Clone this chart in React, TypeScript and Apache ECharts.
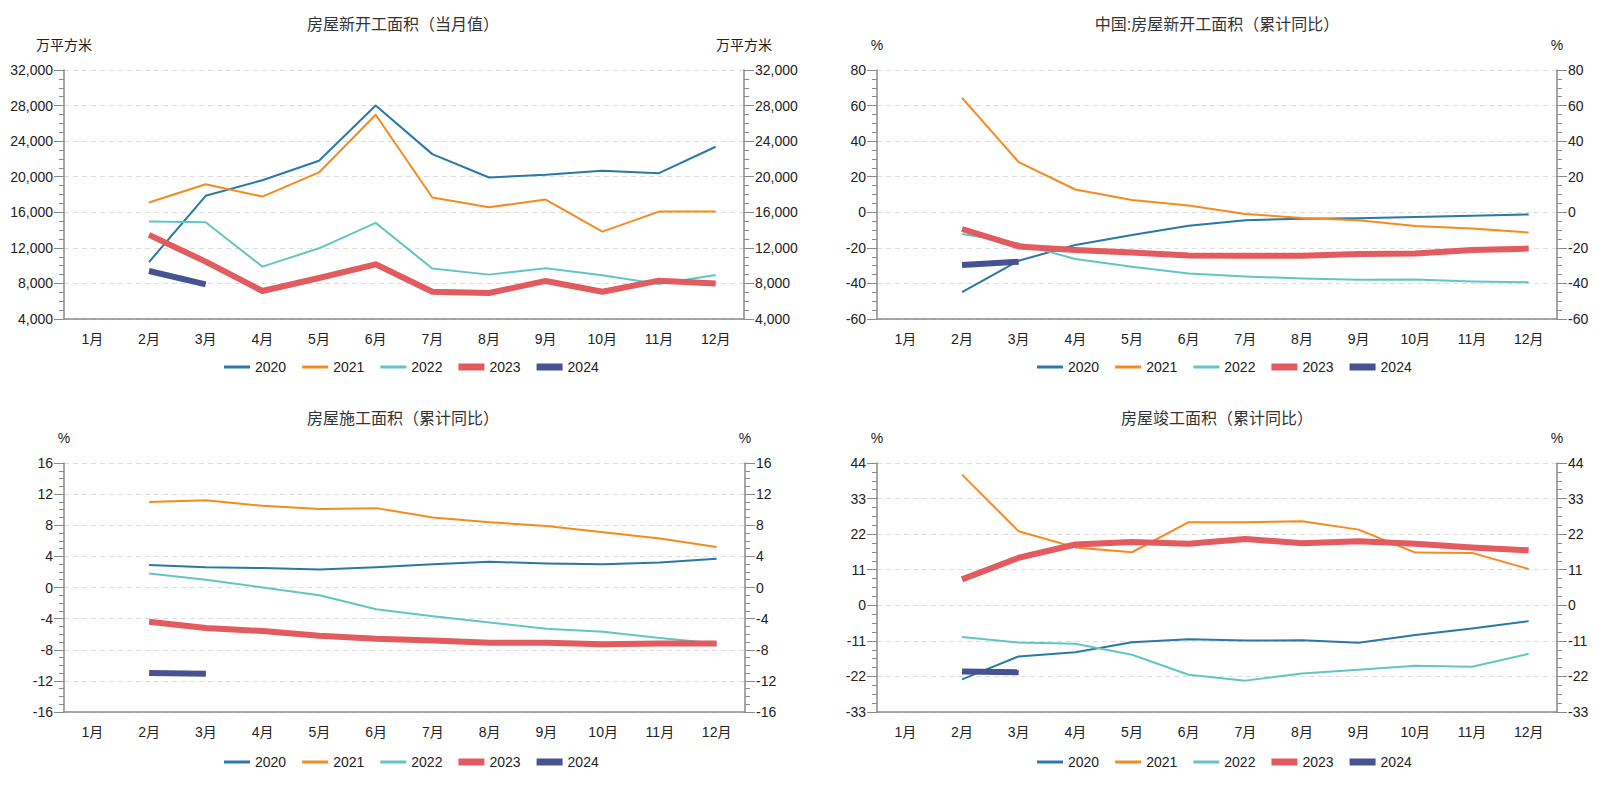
import React, { useEffect, useRef } from "react";
import * as echarts from "echarts";

const months = ["1月", "2月", "3月", "4月", "5月", "6月", "7月", "8月", "9月", "10月", "11月", "12月"];
const years = ["2020", "2021", "2022", "2023", "2024"];
const colors = ["#2878a8", "#f78a1d", "#62c5c3", "#e15b5f", "#475292"];
const widths = [2, 2, 2, 6, 6];

// 房屋新开工面积（当月值）万平方米
const newStart2020 = [null, 10400, 17850, 19600, 21790, 28000, 22540, 19910, 20210, 20660, 20400, 23370];
const newStart2021 = [null, 17100, 19160, 17770, 20480, 26970, 17660, 16570, 17430, 13830, 16080, 16080];
const newStart2022 = [null, 14960, 14880, 9890, 11950, 14810, 9670, 8990, 9700, 8910, 7940, 8950];
const newStart2023 = [null, 13460, 10450, 7150, 8610, 10150, 7070, 6920, 8280, 7070, 8310, 7980];
const newStart2024 = [null, 9400, 7900];

// 中国:房屋新开工面积（累计同比）%
const newStartYoy2020 = [null, -44.9, -27.2, -18.4, -12.8, -7.6, -4.5, -3.6, -3.4, -2.6, -2.0, -1.2];
const newStartYoy2021 = [null, 64.3, 28.2, 12.8, 6.9, 3.8, -0.9, -3.2, -4.5, -7.7, -9.1, -11.4];
const newStartYoy2022 = [null, -12.2, -17.5, -26.3, -30.6, -34.4, -36.1, -37.2, -38.0, -37.8, -38.9, -39.4];
const newStartYoy2023 = [null, -9.4, -19.2, -21.2, -22.6, -24.3, -24.5, -24.4, -23.4, -23.2, -21.2, -20.4];
const newStartYoy2024 = [null, -29.7, -27.8];

// 房屋施工面积（累计同比）%
const underYoy2020 = [null, 2.9, 2.6, 2.5, 2.3, 2.6, 3.0, 3.3, 3.1, 3.0, 3.2, 3.7];
const underYoy2021 = [null, 11.0, 11.2, 10.5, 10.1, 10.2, 9.0, 8.4, 7.9, 7.1, 6.3, 5.2];
const underYoy2022 = [null, 1.8, 1.0, 0.0, -1.0, -2.8, -3.7, -4.5, -5.3, -5.7, -6.5, -7.2];
const underYoy2023 = [null, -4.4, -5.2, -5.6, -6.2, -6.6, -6.8, -7.1, -7.1, -7.3, -7.2, -7.2];
const underYoy2024 = [null, -11.0, -11.1];

// 房屋竣工面积（累计同比）%
const doneYoy2020 = [null, -22.9, -15.8, -14.5, -11.4, -10.5, -10.9, -10.8, -11.6, -9.2, -7.2, -4.9];
const doneYoy2021 = [null, 40.4, 22.9, 17.9, 16.4, 25.7, 25.7, 26.0, 23.4, 16.3, 16.2, 11.2];
const doneYoy2022 = [null, -9.8, -11.5, -11.9, -15.3, -21.5, -23.3, -21.1, -19.9, -18.7, -19.0, -15.0];
const doneYoy2023 = [null, 8.0, 14.7, 18.8, 19.6, 19.0, 20.5, 19.2, 19.8, 19.0, 17.9, 17.0];
const doneYoy2024 = [null, -20.5, -20.7];

const titles = ["房屋新开工面积（当月值）", "中国:房屋新开工面积（累计同比）", "房屋施工面积（累计同比）", "房屋竣工面积（累计同比）"];
const units = ["万平方米", "%", "%", "%"];
const yMins = [4000, -60, -16, -33];
const yMaxs = [32000, 80, 16, 44];
const yIntervals = [4000, 20, 4, 11];
const panelData = [
  [newStart2020, newStart2021, newStart2022, newStart2023, newStart2024],
  [newStartYoy2020, newStartYoy2021, newStartYoy2022, newStartYoy2023, newStartYoy2024],
  [underYoy2020, underYoy2021, underYoy2022, underYoy2023, underYoy2024],
  [doneYoy2020, doneYoy2021, doneYoy2022, doneYoy2023, doneYoy2024],
];

const FONT = "'Liberation Sans', 'Noto Sans CJK SC', sans-serif";
const AXIS_COLOR = "#8a8a8a";
const THIN_ICON = "path://M0,0H26V3H0Z";
const THICK_ICON = "path://M0,0H26V7H0Z";

const grids = [
  { left: 64, top: 70, width: 680, height: 249 },
  { left: 877, top: 70, width: 680, height: 249 },
  { left: 64, top: 463, width: 681, height: 249 },
  { left: 877, top: 463, width: 680, height: 249 },
];
const titlePos = [
  { x: 398, y: 11 },
  { x: 1212, y: 11 },
  { x: 398, y: 405 },
  { x: 1212, y: 405 },
];
const legendPos = [
  { x: 219, y: 355 },
  { x: 1032, y: 355 },
  { x: 219, y: 750 },
  { x: 1032, y: 750 },
];

function buildOption() {
  const fmt = (v: number, i: number) =>
    i === 0 ? echarts.format.addCommas(v) : String(v);

  const title = titles.map((t, i) => ({
    text: t,
    left: titlePos[i].x,
    top: titlePos[i].y,
    textAlign: "center",
    textStyle: { fontSize: 16, fontWeight: "normal", color: "#333", fontFamily: FONT },
  }));

  const legend = legendPos.map((p) => ({
    left: p.x,
    top: p.y,
    itemWidth: 26,
    itemHeight: 14,
    itemGap: 16,
    symbolKeepAspect: true,
    textStyle: { fontSize: 14, color: "#222", fontFamily: FONT },
    data: years.map((y, k) => ({
      name: y,
      icon: k >= 3 ? THICK_ICON : THIN_ICON,
      itemStyle: { color: colors[k] },
    })),
  }));

  const xAxis = grids.map((_, i) => ({
    type: "category",
    gridIndex: i,
    data: months,
    boundaryGap: true,
    axisLine: { onZero: false, lineStyle: { color: AXIS_COLOR, width: 1.5 } },
    axisTick: { alignWithLabel: true, length: 10, lineStyle: { color: AXIS_COLOR } },
    axisLabel: { fontSize: 14, color: "#222", margin: 13, fontFamily: FONT },
    splitLine: { show: false },
  }));

  const yAxis: any[] = [];
  grids.forEach((_, i) => {
    [false, true].forEach((right) => {
      yAxis.push({
        type: "value",
        gridIndex: i,
        position: right ? "right" : "left",
        min: yMins[i],
        max: yMaxs[i],
        interval: yIntervals[i],
        name: units[i],
        nameLocation: "end",
        nameGap: 25,
        nameTextStyle: {
          fontSize: 14,
          color: "#222",
          align: "center",
          verticalAlign: "middle",
          fontFamily: FONT,
        },
        axisLine: { show: true, onZero: false, lineStyle: { color: AXIS_COLOR, width: 1.5 } },
        axisTick: { show: true, length: 10, lineStyle: { color: AXIS_COLOR } },
        minorTick: { show: true, splitNumber: 4, length: 5, lineStyle: { color: AXIS_COLOR } },
        axisLabel: {
          fontSize: 14,
          color: "#222",
          margin: 11,
          fontFamily: FONT,
          formatter: (v: number) => fmt(v, i),
        },
        splitLine: right
          ? { show: false }
          : { show: true, lineStyle: { color: "#dddddd", type: [5, 4], width: 1 } },
      });
    });
  });

  const series: any[] = [];
  panelData.forEach((arrs, i) => {
    arrs.forEach((d, k) => {
      series.push({
        type: "line",
        name: years[k],
        xAxisIndex: i,
        yAxisIndex: i * 2,
        data: d,
        symbol: "none",
        showSymbol: false,
        connectNulls: false,
        lineStyle: { color: colors[k], width: widths[k], cap: "butt", join: "round" },
        itemStyle: { color: colors[k] },
        z: 2 + k,
      });
    });
  });

  return {
    animation: false,
    backgroundColor: "#ffffff",
    textStyle: { fontFamily: FONT },
    title,
    legend,
    grid: grids.map((g) => ({ ...g, containLabel: false })),
    xAxis,
    yAxis,
    series,
  };
}

export default function App() {
  const ref = useRef<HTMLDivElement>(null);
  useEffect(() => {
    if (!ref.current) return;
    const chart = echarts.init(ref.current, undefined, { renderer: "svg" });
    chart.setOption(buildOption() as any);
    return () => chart.dispose();
  }, []);
  return (
    <div
      ref={ref}
      style={{ position: "fixed", left: 0, top: 0, width: 1619, height: 788, background: "#fff" }}
    />
  );
}
